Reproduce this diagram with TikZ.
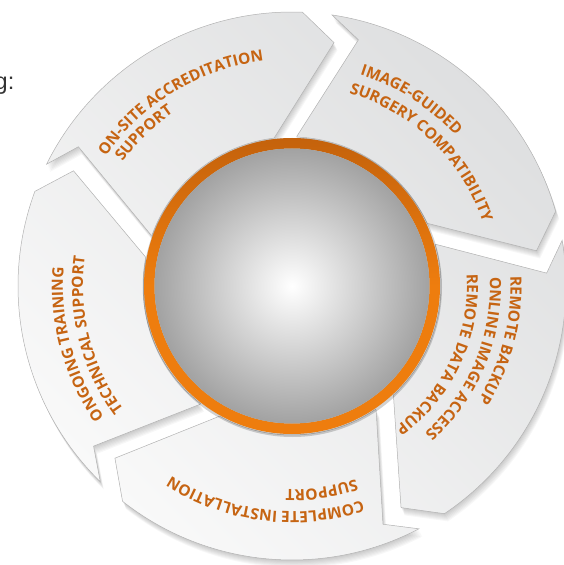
\documentclass[tikz,border=0pt]{standalone}
\usepackage{fontspec}
\usetikzlibrary{decorations.text}
\newfontfamily\osfont{Open Sans}
\newfontfamily\leadfont{Liberation Sans}
\definecolor{txt}{RGB}{198,100,18}
\definecolor{segL}{RGB}{250,250,250}
\definecolor{segD}{RGB}{222,223,224}
\definecolor{orD}{RGB}{196,98,12}
\definecolor{orL}{RGB}{238,125,14}
\definecolor{sphD}{RGB}{162,162,162}
\definecolor{gtxt}{RGB}{51,51,51}
\newcommand\lbl{\osfont\bfseries\fontsize{15.5}{18}\selectfont}
% one ring segment, #1 = angle of its notched (start) outer corner
\newcommand\segpath[1]{({#1+6.5}:150) -- ({#1-6.7}:255) -- (#1:274) arc[start angle=#1, end angle={#1-65.8}, radius=274] -- ({#1-73.4}:247) -- ({#1-56.7}:149) arc[start angle={#1-56.7}, end angle={#1+6.5}, radius=149] -- cycle}
\newcommand\allsegs{\segpath{153.6} \segpath{81.6} \segpath{9.6} \segpath{-62.4} \segpath{-134.4}}
\newcommand\arclabel[3]{\path[seglabel, decoration={text={|\lbl|#3}}] (#2:#1) arc[start angle=#2, delta angle=-80, radius=#1];}
\tikzset{
  seglabel/.style={decorate, decoration={text along path, text color=txt}},
  segshadow/.style={fill=black, opacity=0.03},
  segface/.style={top color=segD, bottom color=segL, shading angle=-45},
  segedge/.style={draw=black!30, line width=0.5},
}
\begin{document}
\begin{tikzpicture}[x=1pt,y=1pt]
\useasboundingbox (-292,-279) rectangle (272,286);
% soft shadows of the segments
\foreach \k in {1,...,7} {
  \path[segshadow, shift={(0.5*\k,-1.1*\k)}] \allsegs;
}
% segments
\shade[segface] \allsegs;
\path[segedge] \allsegs;
% ring shadow, orange ring, sphere
\fill[black, opacity=0.18] (0.5,-1.5) circle (149.5);
\shade[top color=orD, bottom color=orL, middle color=orL, even odd rule] (0,0) circle (148) (0,0) circle (137.5);
\shade[inner color=white, outer color=sphD] (0,0) circle (137.5);
% labels
\arclabel{227}{145.1}{ON-SITE ACCREDITATION}
\arclabel{210}{143.8}{SUPPORT}
\arclabel{222}{72.2}{IMAGE-GUIDED}
\arclabel{201}{73.5}{SURGERY COMPATIBILITY}
\arclabel{218.5}{2.55}{REMOTE BACKUP}
\arclabel{198}{2.6}{ONLINE IMAGE ACCESS}
\arclabel{175}{3.8}{REMOTE DATA BACKUP}
\arclabel{225.5}{-71.9}{COMPLETE INSTALLATION}
\arclabel{203.5}{-71.7}{SUPPORT}
\arclabel{229}{214.9}{ONGOING TRAINING}
\arclabel{209}{216.3}{TECHNICAL SUPPORT}
% cropped lead-in text
\node[anchor=base east, inner sep=0, text=gtxt, font=\leadfont\fontsize{23.5}{27}\selectfont] (lead) at (-277.5,196) {g:};
\end{tikzpicture}
\end{document}
